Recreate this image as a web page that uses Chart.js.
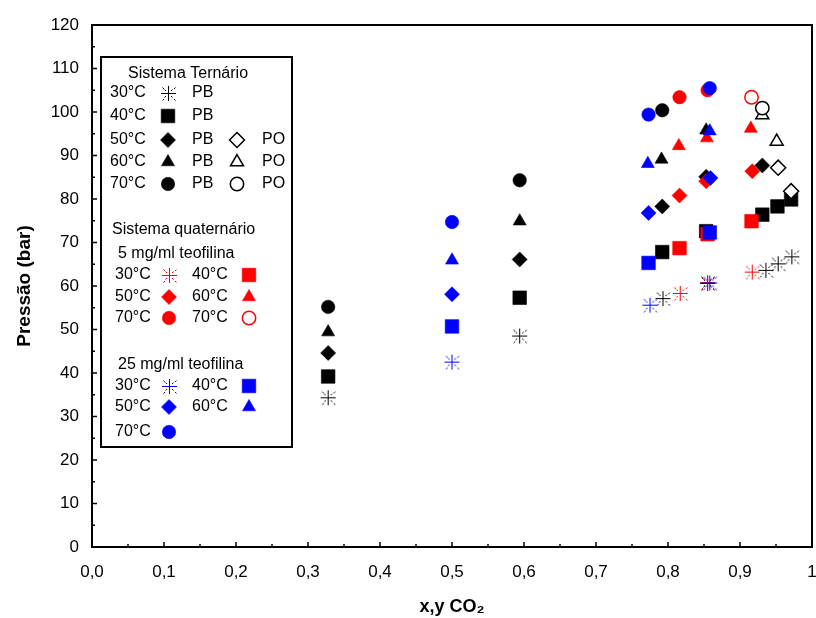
<!DOCTYPE html>
<html>
<head>
<meta charset="utf-8">
<script src="https://cdn.jsdelivr.net/npm/chart.js@4/dist/chart.umd.min.js"></script>
<style>
  html, body { margin: 0; padding: 0; background: #fff; }
  canvas { display: block; }
</style>
</head>
<body>
<canvas id="c" width="816" height="618"></canvas>
<script>
// ---- Ternary system (black): PB = bubble point, PO = dew point ----
const tern30PBx = [0.328, 0.594, 0.793, 0.855, 0.936, 0.953, 0.972];
const tern30PBy = [34.3, 48.5, 57.1, 60.6, 63.6, 65.1, 66.7];
const tern40PBx = [0.328, 0.594, 0.792, 0.853, 0.931, 0.952, 0.971];
const tern40PBy = [39.2, 57.3, 67.8, 72.6, 76.4, 78.3, 79.9];
const tern50PBx = [0.328, 0.594, 0.792, 0.853, 0.931];
const tern50PBy = [44.6, 66.1, 78.3, 85.1, 87.7];
const tern50POx = [0.953, 0.971];
const tern50POy = [87.2, 81.8];
const tern60PBx = [0.328, 0.594, 0.791, 0.853];
const tern60PBy = [49.4, 74.9, 89.1, 95.8];
const tern60POx = [0.931, 0.951];
const tern60POy = [99.3, 93.2];
const tern70PBx = [0.328, 0.594, 0.792];
const tern70PBy = [55.2, 84.3, 100.4];
const tern70POx = [0.931];
const tern70POy = [100.9];

// ---- Quaternary system, 5 mg/ml theophylline (red) ----
const q5_30x = [0.817, 0.855, 0.917];
const q5_30y = [58.3, 60.8, 63.2];
const q5_40x = [0.816, 0.855, 0.916];
const q5_40y = [68.7, 71.9, 74.9];
const q5_50x = [0.816, 0.853, 0.917];
const q5_50y = [80.8, 84.1, 86.4];
const q5_60x = [0.815, 0.854, 0.915];
const q5_60y = [92.2, 94.0, 96.2];
const q5_70x = [0.816, 0.855];
const q5_70y = [103.4, 105.0];
const q5_70POx = [0.916];
const q5_70POy = [103.4];

// ---- Quaternary system, 25 mg/ml theophylline (blue) ----
const q25_30x = [0.500, 0.775, 0.858];
const q25_30y = [42.5, 55.6, 60.7];
const q25_40x = [0.500, 0.773, 0.858];
const q25_40y = [50.7, 65.3, 72.3];
const q25_50x = [0.500, 0.773, 0.859];
const q25_50y = [58.1, 76.8, 84.8];
const q25_60x = [0.500, 0.772, 0.858];
const q25_60y = [65.9, 88.1, 95.6];
const q25_70x = [0.500, 0.773, 0.858];
const q25_70y = [74.7, 99.4, 105.5];

// ---- Axis ticks ----
const xTicks = [0, 0.1, 0.2, 0.3, 0.4, 0.5, 0.6, 0.7, 0.8, 0.9, 1];
const yTicks = [0, 10, 20, 30, 40, 50, 60, 70, 80, 90, 100, 110, 120];

const BLACK = '#000000', RED = '#ff0000', BLUE = '#0000ff';
const FONT = '"Liberation Sans", Arial, sans-serif';

// asterisk-like marker: thin "+" with short broken diagonal arms
function makeStar(color) {
  const c = document.createElement('canvas');
  c.width = c.height = 17;
  const g = c.getContext('2d');
  g.fillStyle = color;
  // cross, 1px wide, pixel aligned
  g.fillRect(1, 8, 15, 1);
  g.fillRect(8, 1, 1, 15);
  // two small dots on each diagonal arm
  for (const [dx, dy] of [[1, 1], [1, -1], [-1, 1], [-1, -1]]) {
    for (const d of [3, 5.5]) {
      const px = 8.5 + dx * d, py = 8.5 + dy * d;
      g.fillRect(Math.round(px - 0.5), Math.round(py - 0.5), 1, 1);
      g.globalAlpha = 0.5;
      g.fillRect(Math.round(px - 0.5) + dx, Math.round(py - 0.5) + dy, 1, 1);
      g.globalAlpha = 1;
    }
  }
  return c;
}
const stars = { [BLACK]: makeStar(BLACK), [RED]: makeStar(RED), [BLUE]: makeStar(BLUE) };

const SIZE = { circle: 6.7, rect: 9.6, rectRot: 7.5, triangle: 7.5, star: 8 };

function ds(xs, ys, kind, color, open, order) {
  return {
    data: xs.map((x, i) => ({ x: x, y: ys[i] })),
    pointStyle: kind === 'star' ? stars[color] : kind,
    pointRadius: SIZE[kind],
    pointHoverRadius: SIZE[kind],
    pointBackgroundColor: open ? '#ffffff' : color,
    pointBorderColor: color,
    pointBorderWidth: open ? 1.5 : 0.6,
    showLine: false,
    order: order
  };
}

const datasets = [
  // black, drawn first
  ds(tern30PBx, tern30PBy, 'star', BLACK, false, 30),
  ds(tern40PBx, tern40PBy, 'rect', BLACK, false, 29),
  ds(tern50PBx, tern50PBy, 'rectRot', BLACK, false, 28),
  ds(tern50POx, tern50POy, 'rectRot', BLACK, true, 27),
  ds(tern60PBx, tern60PBy, 'triangle', BLACK, false, 26),
  ds(tern60POx, tern60POy, 'triangle', BLACK, true, 25),
  ds(tern70PBx, tern70PBy, 'circle', BLACK, false, 24),
  ds(tern70POx, tern70POy, 'circle', BLACK, true, 23),
  // red
  ds(q5_30x, q5_30y, 'star', RED, false, 20),
  ds(q5_40x, q5_40y, 'rect', RED, false, 19),
  ds(q5_50x, q5_50y, 'rectRot', RED, false, 18),
  ds(q5_60x, q5_60y, 'triangle', RED, false, 17),
  ds(q5_70x, q5_70y, 'circle', RED, false, 16),
  ds(q5_70POx, q5_70POy, 'circle', RED, true, 15),
  // blue, on top
  ds(q25_30x, q25_30y, 'star', BLUE, false, 10),
  ds(q25_40x, q25_40y, 'rect', BLUE, false, 9),
  ds(q25_50x, q25_50y, 'rectRot', BLUE, false, 8),
  ds(q25_60x, q25_60y, 'triangle', BLUE, false, 7),
  ds(q25_70x, q25_70y, 'circle', BLUE, false, 6)
];

// marker drawing for the legend box
function mark(ctx, kind, x, y, color, open) {
  if (kind === 'star') { ctx.drawImage(stars[color], Math.round(x - 8.5), Math.round(y - 8.5)); return; }
  const r = SIZE[kind];
  ctx.save();
  ctx.beginPath();
  if (kind === 'circle') {
    ctx.arc(x, y, r, 0, Math.PI * 2);
  } else if (kind === 'rect') {
    const h = r * Math.SQRT1_2;
    ctx.rect(x - h, y - h, 2 * h, 2 * h);
  } else if (kind === 'rectRot') {
    ctx.moveTo(x, y - r); ctx.lineTo(x + r, y); ctx.lineTo(x, y + r); ctx.lineTo(x - r, y); ctx.closePath();
  } else if (kind === 'triangle') {
    const w = r * Math.sin(Math.PI * 2 / 3);
    ctx.moveTo(x, y - r); ctx.lineTo(x + w, y + r / 2); ctx.lineTo(x - w, y + r / 2); ctx.closePath();
  }
  ctx.fillStyle = open ? '#ffffff' : color;
  ctx.fill();
  ctx.strokeStyle = color;
  ctx.lineWidth = open ? 1.5 : 0.6;
  ctx.stroke();
  ctx.restore();
}

const frameAndLegend = {
  id: 'frameAndLegend',
  afterDraw(chart) {
    const ctx = chart.ctx;
    const a = chart.chartArea;
    const xs = chart.scales.x, ys = chart.scales.y;
    ctx.save();
    // plot frame
    ctx.strokeStyle = '#000';
    ctx.lineWidth = 2;
    ctx.strokeRect(a.left, a.top, a.right - a.left, a.bottom - a.top);
    // inward ticks, major and minor
    ctx.lineWidth = 1.5;
    ctx.beginPath();
    for (let i = 0; i <= 20; i++) {
      const px = xs.getPixelForValue(i * 0.05);
      const len = i % 2 === 0 ? 5 : 3;
      ctx.moveTo(px, a.bottom); ctx.lineTo(px, a.bottom - len);
    }
    for (let i = 0; i <= 24; i++) {
      const py = ys.getPixelForValue(i * 5);
      const len = i % 2 === 0 ? 5 : 3;
      ctx.moveTo(a.left, py); ctx.lineTo(a.left + len, py);
    }
    ctx.stroke();

    // legend box
    ctx.fillStyle = '#fff';
    ctx.fillRect(101, 57, 191, 390);
    ctx.lineWidth = 2;
    ctx.strokeRect(101, 57, 191, 390);

    ctx.fillStyle = '#000';
    ctx.font = '16px ' + FONT;
    ctx.textBaseline = 'middle';
    ctx.textAlign = 'left';
    const T = (s, x, y) => ctx.fillText(s, x, y);

    T('Sistema Ternário', 128, 74);
    const tRows = [
      ['30°C', 'star', null, 93],
      ['40°C', 'rect', null, 116],
      ['50°C', 'rectRot', 'rectRot', 140],
      ['60°C', 'triangle', 'triangle', 162],
      ['70°C', 'circle', 'circle', 184]
    ];
    for (const [lab, k1, k2, y] of tRows) {
      T(lab, 110, y);
      mark(ctx, k1, 168, y, BLACK, false);
      ctx.fillStyle = '#000';
      T('PB', 192, y);
      if (k2) {
        mark(ctx, k2, 237, y, BLACK, true);
        ctx.fillStyle = '#000';
        T('PO', 262, y);
      }
    }

    T('Sistema quaternário', 112, 230);
    T('5 mg/ml teofilina', 118, 254);
    const rRows = [
      ['30°C', 'star', false, '40°C', 'rect', false, 275],
      ['50°C', 'rectRot', false, '60°C', 'triangle', false, 297],
      ['70°C', 'circle', false, '70°C', 'circle', true, 318]
    ];
    for (const [l1, k1, o1, l2, k2, o2, y] of rRows) {
      ctx.fillStyle = '#000';
      T(l1, 115, y);
      mark(ctx, k1, 169, y, RED, o1);
      ctx.fillStyle = '#000';
      T(l2, 192, y);
      mark(ctx, k2, 249, y, RED, o2);
    }

    ctx.fillStyle = '#000';
    T('25 mg/ml teofilina', 118, 365);
    const bRows = [
      ['30°C', 'star', '40°C', 'rect', 386],
      ['50°C', 'rectRot', '60°C', 'triangle', 407],
      ['70°C', 'circle', null, null, 432]
    ];
    for (const [l1, k1, l2, k2, y] of bRows) {
      ctx.fillStyle = '#000';
      T(l1, 115, y);
      mark(ctx, k1, 169, y, BLUE, false);
      if (l2) {
        ctx.fillStyle = '#000';
        T(l2, 192, y);
        mark(ctx, k2, 249, y, BLUE, false);
      }
    }
    ctx.restore();
  }
};

new Chart(document.getElementById('c'), {
  type: 'scatter',
  data: { datasets: datasets },
  options: {
    responsive: false,
    animation: false,
    devicePixelRatio: 1,
    layout: { autoPadding: false, padding: { top: 25, right: 4, left: 0, bottom: 0 } },
    plugins: { legend: { display: false }, tooltip: { enabled: false } },
    scales: {
      x: {
        type: 'linear', position: 'bottom', min: 0, max: 1,
        afterFit: s => { s.height = 71; s.paddingLeft = 0; s.paddingRight = 0; },
        afterBuildTicks: s => { s.ticks = xTicks.map(v => ({ value: v })); },
        grid: { display: false, drawTicks: false },
        border: { display: false },
        ticks: {
          color: '#000', padding: 15, maxRotation: 0, autoSkip: false,
          font: { family: FONT, size: 17 },
          callback: v => (Math.abs(v - 1) < 1e-9 ? '1' : v.toFixed(1).replace('.', ','))
        },
        title: {
          display: true, text: 'x,y CO₂', color: '#000',
          font: { family: FONT, size: 18, weight: 'bold' },
          padding: { top: 0, bottom: 0 }
        }
      },
      y: {
        type: 'linear', position: 'left', min: 0, max: 120,
        afterFit: s => { s.width = 92; s.paddingTop = 0; s.paddingBottom = 0; },
        afterBuildTicks: s => { s.ticks = yTicks.map(v => ({ value: v })); },
        grid: { display: false, drawTicks: false },
        border: { display: false },
        ticks: {
          color: '#000', padding: 13,
          font: { family: FONT, size: 17 }
        },
        title: {
          display: true, text: 'Pressão (bar)', color: '#000',
          font: { family: FONT, size: 19, weight: 'bold' },
          padding: { top: 13, bottom: 0 }
        }
      }
    }
  },
  plugins: [frameAndLegend]
});
</script>
</body>
</html>
